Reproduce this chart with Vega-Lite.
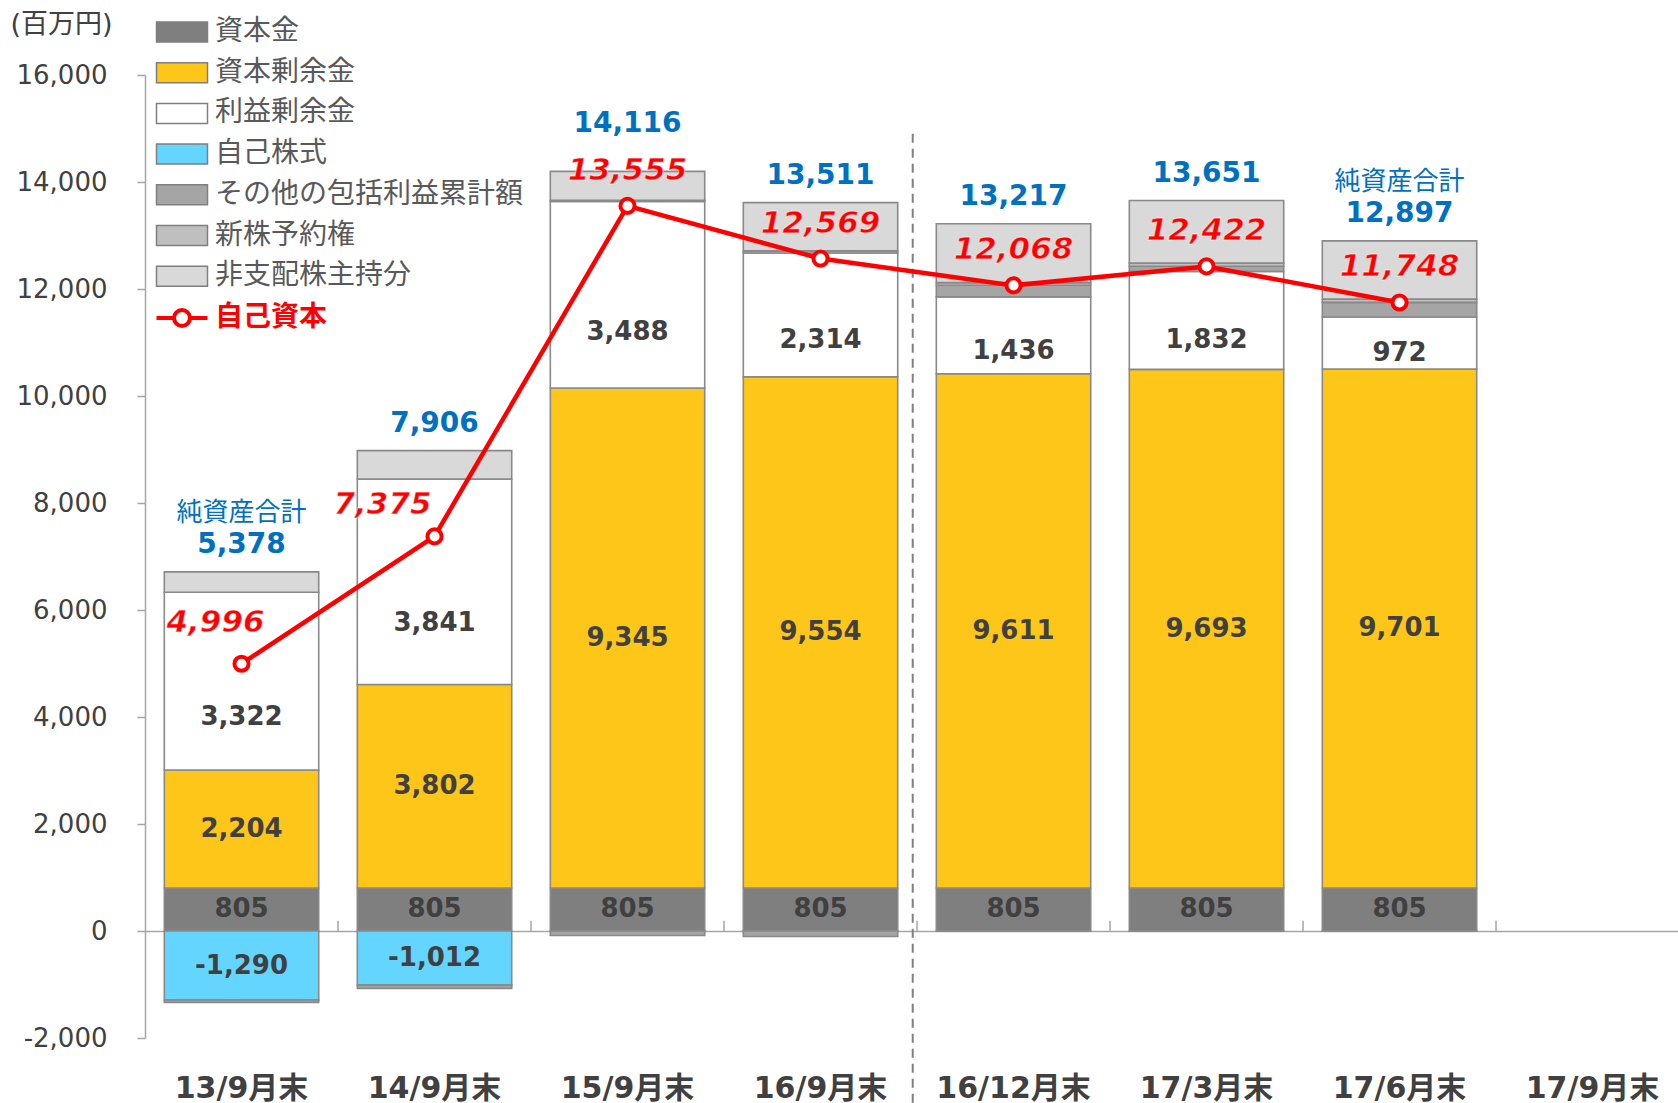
{
  "$schema": "https://vega.github.io/schema/vega-lite/v6.json",
  "width": 1533,
  "height": 963,
  "autosize": {"type": "none"},
  "padding": {"left": 145, "top": 75, "right": 0, "bottom": 65},
  "background": "white",
  "config": {
    "view": {"stroke": null},
    "font": "DejaVu Sans, Noto Sans CJK JP"
  },
  "datasets": {
    "parts": [
      {"cat": "13/9月末", "series": "資本金", "value": 805},
      {"cat": "13/9月末", "series": "資本剰余金", "value": 2204},
      {"cat": "13/9月末", "series": "利益剰余金", "value": 3322},
      {"cat": "13/9月末", "series": "自己株式", "value": -1290},
      {"cat": "13/9月末", "series": "その他の包括利益累計額", "value": -45},
      {"cat": "13/9月末", "series": "新株予約権", "value": 0},
      {"cat": "13/9月末", "series": "非支配株主持分", "value": 382},
      {"cat": "14/9月末", "series": "資本金", "value": 805},
      {"cat": "14/9月末", "series": "資本剰余金", "value": 3802},
      {"cat": "14/9月末", "series": "利益剰余金", "value": 3841},
      {"cat": "14/9月末", "series": "自己株式", "value": -1012},
      {"cat": "14/9月末", "series": "その他の包括利益累計額", "value": -61},
      {"cat": "14/9月末", "series": "新株予約権", "value": 0},
      {"cat": "14/9月末", "series": "非支配株主持分", "value": 531},
      {"cat": "15/9月末", "series": "資本金", "value": 805},
      {"cat": "15/9月末", "series": "資本剰余金", "value": 9345},
      {"cat": "15/9月末", "series": "利益剰余金", "value": 3488},
      {"cat": "15/9月末", "series": "自己株式", "value": -1},
      {"cat": "15/9月末", "series": "その他の包括利益累計額", "value": -82},
      {"cat": "15/9月末", "series": "新株予約権", "value": 20},
      {"cat": "15/9月末", "series": "非支配株主持分", "value": 541},
      {"cat": "16/9月末", "series": "資本金", "value": 805},
      {"cat": "16/9月末", "series": "資本剰余金", "value": 9554},
      {"cat": "16/9月末", "series": "利益剰余金", "value": 2314},
      {"cat": "16/9月末", "series": "自己株式", "value": -1},
      {"cat": "16/9月末", "series": "その他の包括利益累計額", "value": -103},
      {"cat": "16/9月末", "series": "新株予約権", "value": 40},
      {"cat": "16/9月末", "series": "非支配株主持分", "value": 902},
      {"cat": "16/12月末", "series": "資本金", "value": 805},
      {"cat": "16/12月末", "series": "資本剰余金", "value": 9611},
      {"cat": "16/12月末", "series": "利益剰余金", "value": 1436},
      {"cat": "16/12月末", "series": "自己株式", "value": -2},
      {"cat": "16/12月末", "series": "その他の包括利益累計額", "value": 218},
      {"cat": "16/12月末", "series": "新株予約権", "value": 50},
      {"cat": "16/12月末", "series": "非支配株主持分", "value": 1099},
      {"cat": "17/3月末", "series": "資本金", "value": 805},
      {"cat": "17/3月末", "series": "資本剰余金", "value": 9693},
      {"cat": "17/3月末", "series": "利益剰余金", "value": 1832},
      {"cat": "17/3月末", "series": "自己株式", "value": -2},
      {"cat": "17/3月末", "series": "その他の包括利益累計額", "value": 94},
      {"cat": "17/3月末", "series": "新株予約権", "value": 60},
      {"cat": "17/3月末", "series": "非支配株主持分", "value": 1169},
      {"cat": "17/6月末", "series": "資本金", "value": 805},
      {"cat": "17/6月末", "series": "資本剰余金", "value": 9701},
      {"cat": "17/6月末", "series": "利益剰余金", "value": 972},
      {"cat": "17/6月末", "series": "自己株式", "value": -2},
      {"cat": "17/6月末", "series": "その他の包括利益累計額", "value": 272},
      {"cat": "17/6月末", "series": "新株予約権", "value": 60},
      {"cat": "17/6月末", "series": "非支配株主持分", "value": 1089}
    ],
    "totals": [
      {"cat": "13/9月末", "net": 5378, "eq": 4996, "note": "純資産合計"},
      {"cat": "14/9月末", "net": 7906, "eq": 7375, "note": ""},
      {"cat": "15/9月末", "net": 14116, "eq": 13555, "note": ""},
      {"cat": "16/9月末", "net": 13511, "eq": 12569, "note": ""},
      {"cat": "16/12月末", "net": 13217, "eq": 12068, "note": ""},
      {"cat": "17/3月末", "net": 13651, "eq": 12422, "note": ""},
      {"cat": "17/6月末", "net": 12897, "eq": 11748, "note": "純資産合計"}
    ]
  },
  "layer": [
    {
      "data": {"name": "parts"},
      "transform": [
        {"calculate": "indexof(['資本金','資本剰余金','利益剰余金','自己株式','その他の包括利益累計額','新株予約権','非支配株主持分'], datum.series)", "as": "k"},
        {"stack": "value", "groupby": ["cat"], "sort": [{"field": "k", "order": "ascending"}], "as": ["v0", "v1"], "offset": "zero"}
      ],
      "mark": {"type": "bar", "stroke": "#898989", "strokeWidth": 1.6},
      "encoding": {
        "x": {
          "field": "cat", "type": "nominal", "sort": null,
          "scale": {
            "type": "band",
            "domain": ["13/9月末", "14/9月末", "15/9月末", "16/9月末", "16/12月末", "17/3月末", "17/6月末", "17/9月末"],
            "paddingInner": 0.2, "paddingOuter": 0.0715, "align": 0.7
          },
          "axis": {
            "title": null, "orient": "bottom", "offset": -107,
            "domain": true, "domainColor": "#a6a6a6", "domainWidth": 1.5,
            "ticks": true, "tickColor": "transparent", "tickWidth": 1.5, "tickSize": -10,
            "labelAngle": 0, "labelFontSize": 30, "labelFontWeight": "bold", "labelColor": "#404040",
            "labelPadding": 152, "labelBaseline": "top"
          }
        },
        "y": {
          "field": "v0", "type": "quantitative",
          "scale": {"domain": [-2000, 16000], "nice": false, "zero": false},
          "axis": {
            "title": "(百万円)", "titleAngle": 0, "titleAlign": "left", "titleBaseline": "middle",
            "titleX": -135, "titleY": -51, "titleFontSize": 27, "titleFontWeight": "normal", "titleColor": "#404040",
            "values": [-2000, 0, 2000, 4000, 6000, 8000, 10000, 12000, 14000, 16000],
            "format": ",d", "labelExpr": "replace(datum.label, '−', '-')",
            "grid": false, "domainColor": "#a6a6a6", "domainWidth": 1.5,
            "tickColor": "#a6a6a6", "tickWidth": 1.5, "tickSize": 8,
            "labelFontSize": 26, "labelColor": "#404040", "labelPadding": 30
          }
        },
        "y2": {"field": "v1"},
        "fill": {
          "field": "series", "type": "nominal",
          "scale": {
            "domain": ["資本金", "資本剰余金", "利益剰余金", "自己株式", "その他の包括利益累計額", "新株予約権", "非支配株主持分"],
            "range": ["#7f7f7f", "#ffc61a", "#ffffff", "#63d5fe", "#a5a5a5", "#bfbfbf", "#d9d9d9"]
          },
          "legend": {
            "title": null, "orient": "none", "legendX": 23, "legendY": -57,
            "direction": "vertical", "columns": 1,
            "symbolType": "M-2.55,-1H2.55V1H-2.55Z", "symbolSize": 400,
            "symbolStrokeColor": "#7f7f7f", "symbolStrokeWidth": 1.5,
            "labelFontSize": 28, "labelColor": "#595959", "labelOffset": 19, "labelLimit": 500,
            "rowPadding": 12.7, "padding": 0,
            "encode": {"symbols": {"update": {"stroke": {"value": "#7f7f7f"}, "strokeWidth": {"value": 1.5}, "opacity": {"value": 1}}}}
          }
        }
      }
    },
    {
      "data": {"name": "totals"},
      "mark": {"type": "rule", "stroke": "#a6a6a6", "strokeWidth": 1.5, "xOffset": 19.3},
      "encoding": {
        "x": {"field": "cat", "type": "nominal", "sort": null, "bandPosition": 1},
        "y": {"datum": 0, "type": "quantitative"},
        "y2": {"datum": 190}
      }
    },
    {
      "data": {"name": "parts"},
      "transform": [
        {"calculate": "indexof(['資本金','資本剰余金','利益剰余金','自己株式','その他の包括利益累計額','新株予約権','非支配株主持分'], datum.series)", "as": "k"},
        {"stack": "value", "groupby": ["cat"], "sort": [{"field": "k", "order": "ascending"}], "as": ["v0", "v1"], "offset": "zero"},
        {"filter": "datum.series == '資本金' || datum.series == '資本剰余金' || datum.series == '利益剰余金' || (datum.series == '自己株式' && datum.value < -500)"},
        {"calculate": "datum.series == '利益剰余金' ? datum.v0 + 0.3 * (datum.v1 - datum.v0) : (datum.v0 + datum.v1) / 2", "as": "mid"},
        {"calculate": "replace(format(datum.value, ','), '−', '-')", "as": "lbl"}
      ],
      "mark": {"type": "text", "fontSize": 26, "fontWeight": "bold", "fill": "#404040", "baseline": "middle", "align": "center"},
      "encoding": {
        "x": {"field": "cat", "type": "nominal", "sort": null},
        "y": {"field": "mid", "type": "quantitative"},
        "text": {"field": "lbl"}
      }
    },
    {
      "data": {"name": "parts"},
      "transform": [
        {"filter": "datum.value > 0"},
        {"aggregate": [{"op": "sum", "field": "value", "as": "top"}], "groupby": ["cat"]},
        {"lookup": "cat", "from": {"data": {"name": "totals"}, "key": "cat", "fields": ["net", "note"]}},
        {"calculate": "format(datum.net, ',')", "as": "netlbl"}
      ],
      "encoding": {
        "x": {"field": "cat", "type": "nominal", "sort": null},
        "y": {"field": "top", "type": "quantitative"}
      },
      "layer": [
        {
          "transform": [{"filter": "datum.cat != '15/9月末'"}],
          "mark": {"type": "text", "fontSize": 28, "fontWeight": "bold", "fill": "#0070c0", "baseline": "middle", "dy": -27},
          "encoding": {"text": {"field": "netlbl"}}
        },
        {
          "transform": [{"filter": "datum.cat == '15/9月末'"}],
          "mark": {"type": "text", "fontSize": 28, "fontWeight": "bold", "fill": "#0070c0", "baseline": "middle", "dy": -47},
          "encoding": {"text": {"field": "netlbl"}}
        },
        {
          "transform": [{"filter": "datum.note != ''"}],
          "mark": {"type": "text", "fontSize": 26, "fill": "#0070c0", "baseline": "middle", "dy": -59},
          "encoding": {"text": {"field": "note"}}
        }
      ]
    },
    {
      "data": {"values": [{}]},
      "mark": {"type": "rule", "stroke": "#7f7f7f", "strokeWidth": 2, "strokeDash": [9, 6], "xOffset": 15},
      "encoding": {
        "x": {"datum": "16/9月末", "type": "nominal", "bandPosition": 1},
        "y": {"datum": 14900, "type": "quantitative"},
        "y2": {"datum": -3300}
      }
    },
    {
      "data": {"name": "totals"},
      "mark": {"type": "line", "strokeWidth": 4.5},
      "encoding": {
        "x": {"field": "cat", "type": "nominal", "sort": null},
        "y": {"field": "eq", "type": "quantitative"},
        "stroke": {
          "datum": "自己資本", "type": "nominal",
          "scale": {"domain": ["自己資本"], "range": ["#ff0000"]},
          "legend": {
            "title": null, "orient": "none", "legendX": 23, "legendY": 229,
            "symbolType": "M-2.55,0H-0.8M0.8,0H2.55M0.8,0A0.8,0.8,0,1,1,-0.8,0A0.8,0.8,0,1,1,0.8,0",
            "symbolSize": 400, "symbolStrokeWidth": 4,
            "labelFontSize": 28, "labelColor": "#ff0000", "labelFontWeight": "bold", "labelOffset": 19,
            "padding": 0,
            "encode": {"symbols": {"update": {"fill": {"value": "white"}, "stroke": {"value": "#ff0000"}, "strokeWidth": {"value": 4}, "opacity": {"value": 1}}}}
          }
        }
      }
    },
    {
      "data": {"name": "totals"},
      "mark": {"type": "point", "filled": false, "fill": "white", "fillOpacity": 1, "strokeWidth": 4, "size": 200, "shape": "circle", "opacity": 1},
      "encoding": {
        "x": {"field": "cat", "type": "nominal", "sort": null},
        "y": {"field": "eq", "type": "quantitative"},
        "stroke": {"datum": "自己資本", "type": "nominal"}
      }
    },
    {
      "data": {"name": "totals"},
      "transform": [{"calculate": "format(datum.eq, ',')", "as": "eqlbl"}],
      "encoding": {
        "x": {"field": "cat", "type": "nominal", "sort": null},
        "y": {"field": "eq", "type": "quantitative"},
        "text": {"field": "eqlbl"}
      },
      "layer": [
        {
          "transform": [{"filter": "datum.cat == '13/9月末'"}],
          "mark": {"type": "text", "fontSize": 31, "fontWeight": "bold", "fontStyle": "italic", "fill": "#ff0000", "stroke": "white", "strokeWidth": 1, "strokeOpacity": 0.6, "baseline": "middle", "dx": -26, "dy": -41}
        },
        {
          "transform": [{"filter": "datum.cat == '14/9月末'"}],
          "mark": {"type": "text", "fontSize": 31, "fontWeight": "bold", "fontStyle": "italic", "fill": "#ff0000", "stroke": "white", "strokeWidth": 1, "strokeOpacity": 0.6, "baseline": "middle", "dx": -52, "dy": -31}
        },
        {
          "transform": [{"filter": "datum.cat != '13/9月末' && datum.cat != '14/9月末'"}],
          "mark": {"type": "text", "fontSize": 31, "fontWeight": "bold", "fontStyle": "italic", "fill": "#ff0000", "stroke": "white", "strokeWidth": 1, "strokeOpacity": 0.6, "baseline": "middle", "dy": -35}
        }
      ]
    }
  ]
}
